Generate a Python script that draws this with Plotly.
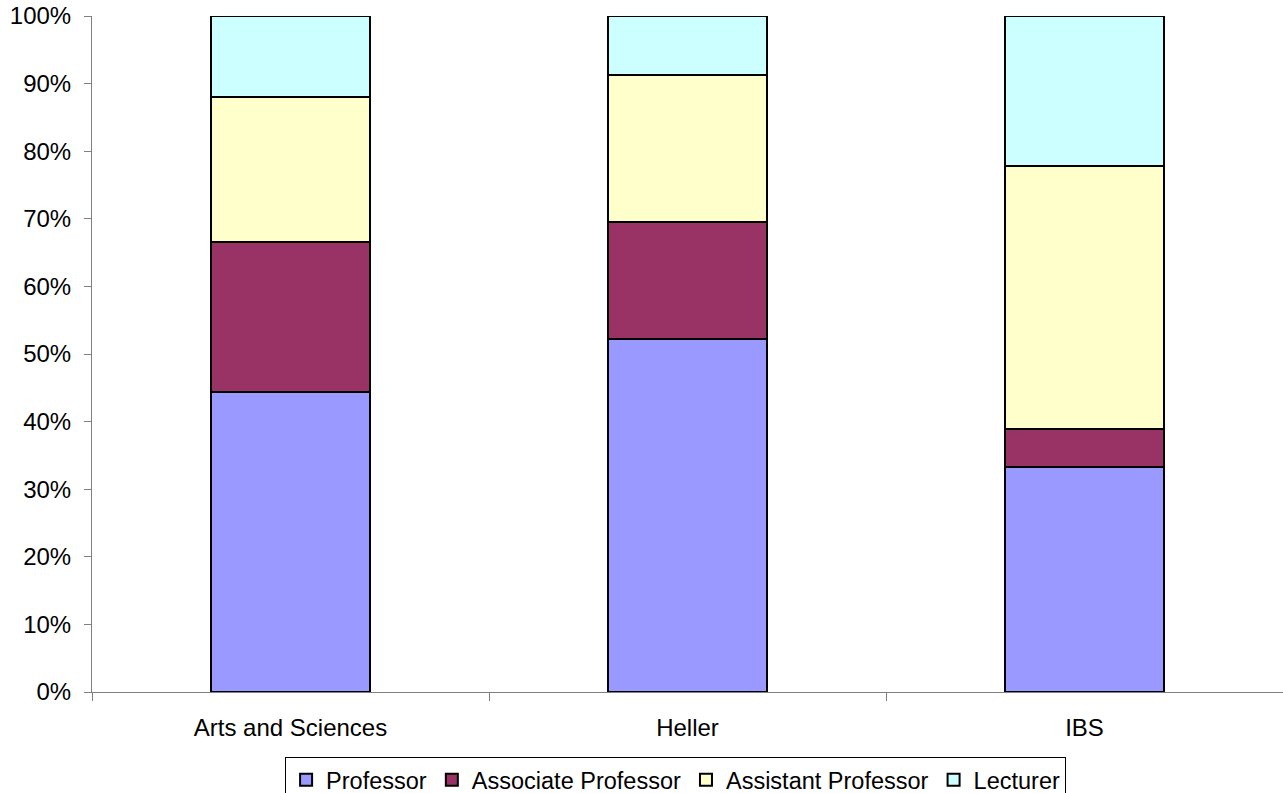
import plotly.graph_objects as go

categories = ["Arts and Sciences", "Heller", "IBS"]
series_names = ["Professor", "Associate Professor", "Assistant Professor", "Lecturer"]
professor = [44.4, 52.2, 33.3]
associate = [22.2, 17.4, 5.6]
assistant = [21.4, 21.7, 38.9]
lecturer = [12.0, 8.7, 22.2]
colors = ["#9999FF", "#993366", "#FFFFCC", "#CCFFFF"]
tick_vals = [0, 10, 20, 30, 40, 50, 60, 70, 80, 90, 100]
tick_text = [f"{v}%" for v in tick_vals]

fig = go.Figure()
for name, vals, col in zip(series_names, [professor, associate, assistant, lecturer], colors):
    fig.add_trace(go.Bar(
        x=categories, y=vals, name=name,
        marker=dict(color=col, line=dict(color="black", width=2)),
    ))

fig.update_layout(
    barmode="stack",
    bargap=0.6,
    width=1283, height=793,
    margin=dict(l=92, r=0, t=16, b=101, autoexpand=False),
    plot_bgcolor="white", paper_bgcolor="white",
    font=dict(family="Liberation Sans, Arial", size=24, color="black"),
    showlegend=True,
    legend=dict(
        orientation="h", x=0.49, xanchor="center", y=-0.096, yanchor="top",
        bordercolor="black", borderwidth=1, font=dict(size=23.5),
        traceorder="normal", itemwidth=30, tracegroupgap=0,
    ),
)
fig.update_yaxes(
    range=[0, 100], tickvals=tick_vals, ticktext=tick_text,
    showgrid=False, zeroline=False,
    showline=True, linecolor="#808080", linewidth=1,
    ticks="outside", ticklen=7, tickcolor="#808080",
    ticklabelstandoff=8,
)
fig.update_xaxes(
    showgrid=False, showline=True, linecolor="#808080", linewidth=1,
    ticks="outside", tickson="boundaries", ticklen=8, tickcolor="#808080",
    ticklabelstandoff=14,
)
fig.write_html(
    "out.html",
    config={"displayModeBar": False},
    post_script="document.body.style.margin='0px';document.body.style.overflow='hidden';",
)
